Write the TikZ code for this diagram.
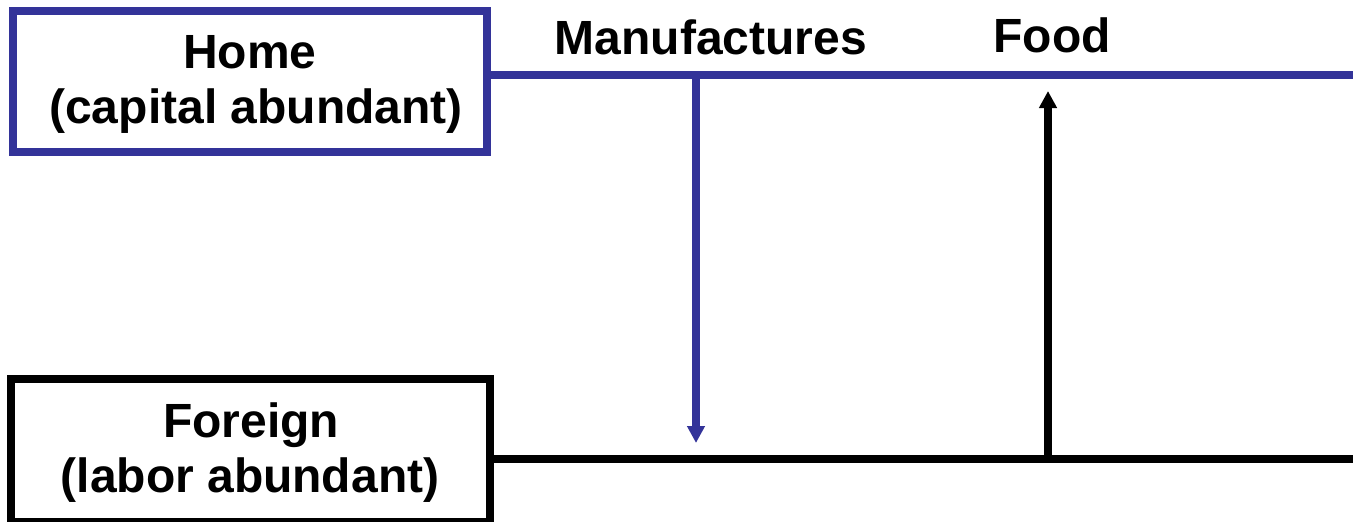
\documentclass[tikz,border=0pt]{standalone}
\usepackage{fontspec}
\setmainfont{Liberation Sans}
\usetikzlibrary{arrows.meta}
\definecolor{navy}{RGB}{51,51,153}
\begin{document}
\begin{tikzpicture}[x=1pt,y=-1pt,
  boxframe/.style={draw,line width=8pt,inner sep=0pt,outer sep=0pt},
  lbl/.style={font=\fontsize{48}{56}\selectfont\bfseries,inner sep=0pt,anchor=base},
  thick line/.style={line width=8pt},
  flow/.style={line width=8pt,-{Triangle[width=17pt,length=17pt]}}]
\useasboundingbox (0,0) rectangle (1353,522);
\fill[white] (0,0) rectangle (1353,522);
% boxes
\node[boxframe,draw=navy,minimum width=474pt,minimum height=141pt] (home) at (250,81.5) {};
\node[boxframe,draw=black,minimum width=479pt,minimum height=143pt] (foreign) at (250.5,450.5) {};
\node[lbl] (homeA) at (250,68) {Home};
\node[lbl] (homeB) at (256,123) {(capital abundant)};
\node[lbl] (foreignA) at (251,437) {Foreign};
\node[lbl] (foreignB) at (250,492) {(labor abundant)};
% labels
\node[lbl] (manu) at (711,54) {Manufactures};
\node[lbl] (food) at (1052,52) {Food};
% lines
\coordinate (hr) at (1353,75);
\coordinate (fr) at (1353,459);
\draw[thick line,navy] (hr -| home.east) -- (hr);
\draw[thick line,black] (fr -| foreign.east) -- (fr);
% arrows
\coordinate (mstart) at (696,75);
\coordinate (mend) at (696,443);
\coordinate (fstart) at (1048,459);
\coordinate (fend) at (1048,91);
\draw[flow,navy] (mstart) -- (mend);
\draw[flow,black] (fstart) -- (fend);
\end{tikzpicture}
\end{document}
